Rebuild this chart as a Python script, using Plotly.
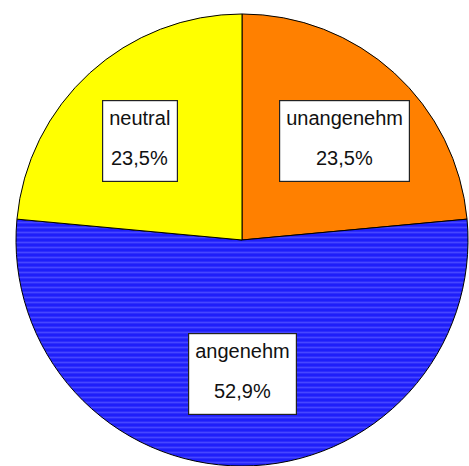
import math
import plotly.graph_objects as go

# ---- data ----
categories = ["unangenehm", "angenehm", "neutral"]
counts = [4, 9, 4]

# ---- styles ----
colors = ["#FF8000", "#1E1EFA", "#FFFF00"]
W, H = 469, 466
DOM_X = [0.032, 1.0]
DOM_Y = [0.0, 0.97]
FONT = "Liberation Sans, Arial, sans-serif"
LABEL_FRAC_X = 0.67
LABEL_FRAC_Y = 0.595

total = sum(counts)
pct_text = [f"{c / total * 100:.1f}".replace(".", ",") + "%" for c in counts]

fig = go.Figure(go.Pie(
    labels=categories,
    values=counts,
    sort=False,
    direction="clockwise",
    rotation=0,
    textinfo="none",
    hoverinfo="label+percent",
    showlegend=False,
    marker=dict(
        colors=colors,
        line=dict(color="#000000", width=1),
        pattern=dict(
            shape=["", "-", ""],
            fgcolor=["#FF8000", "#4646FF", "#FFFF00"],
            bgcolor=colors,
            size=5,
            solidity=0.35,
        ),
    ),
    domain=dict(x=DOM_X, y=DOM_Y),
))

# pie geometry in pixels (for label placement)
cx = (DOM_X[0] + DOM_X[1]) / 2 * W
cy = (1 - (DOM_Y[0] + DOM_Y[1]) / 2) * H
r = min((DOM_X[1] - DOM_X[0]) * W, (DOM_Y[1] - DOM_Y[0]) * H) / 2

annotations = []
cum = 0
for lab, c, p in zip(categories, counts, pct_text):
    mid = (cum + c / 2) / total * 2 * math.pi
    cum += c
    px = cx + LABEL_FRAC_X * r * math.sin(mid)
    py = cy - LABEL_FRAC_Y * r * math.cos(mid)
    xp = px / W
    yp = 1 - py / H
    annotations.append(dict(
        x=xp, y=yp, xref="paper", yref="paper",
        text=lab, showarrow=False,
        xanchor="center", yanchor="middle",
        height=68, valign="top",
        bgcolor="#FFFFFF", bordercolor="#222222",
        borderwidth=1.2, borderpad=6,
        font=dict(family=FONT, size=20, color="#111111"),
    ))
    annotations.append(dict(
        x=xp, y=yp, xref="paper", yref="paper",
        text=p, showarrow=False,
        xanchor="center", yanchor="middle", yshift=-17,
        font=dict(family=FONT, size=20, color="#111111"),
    ))

fig.update_layout(
    width=W, height=H,
    margin=dict(l=0, r=0, t=0, b=0),
    paper_bgcolor="#FFFFFF",
    plot_bgcolor="#FFFFFF",
    annotations=annotations,
)

fig.write_html(
    "out.html",
    config={"displayModeBar": False},
    post_script="document.body.style.margin='0';document.body.style.overflow='hidden';",
)
